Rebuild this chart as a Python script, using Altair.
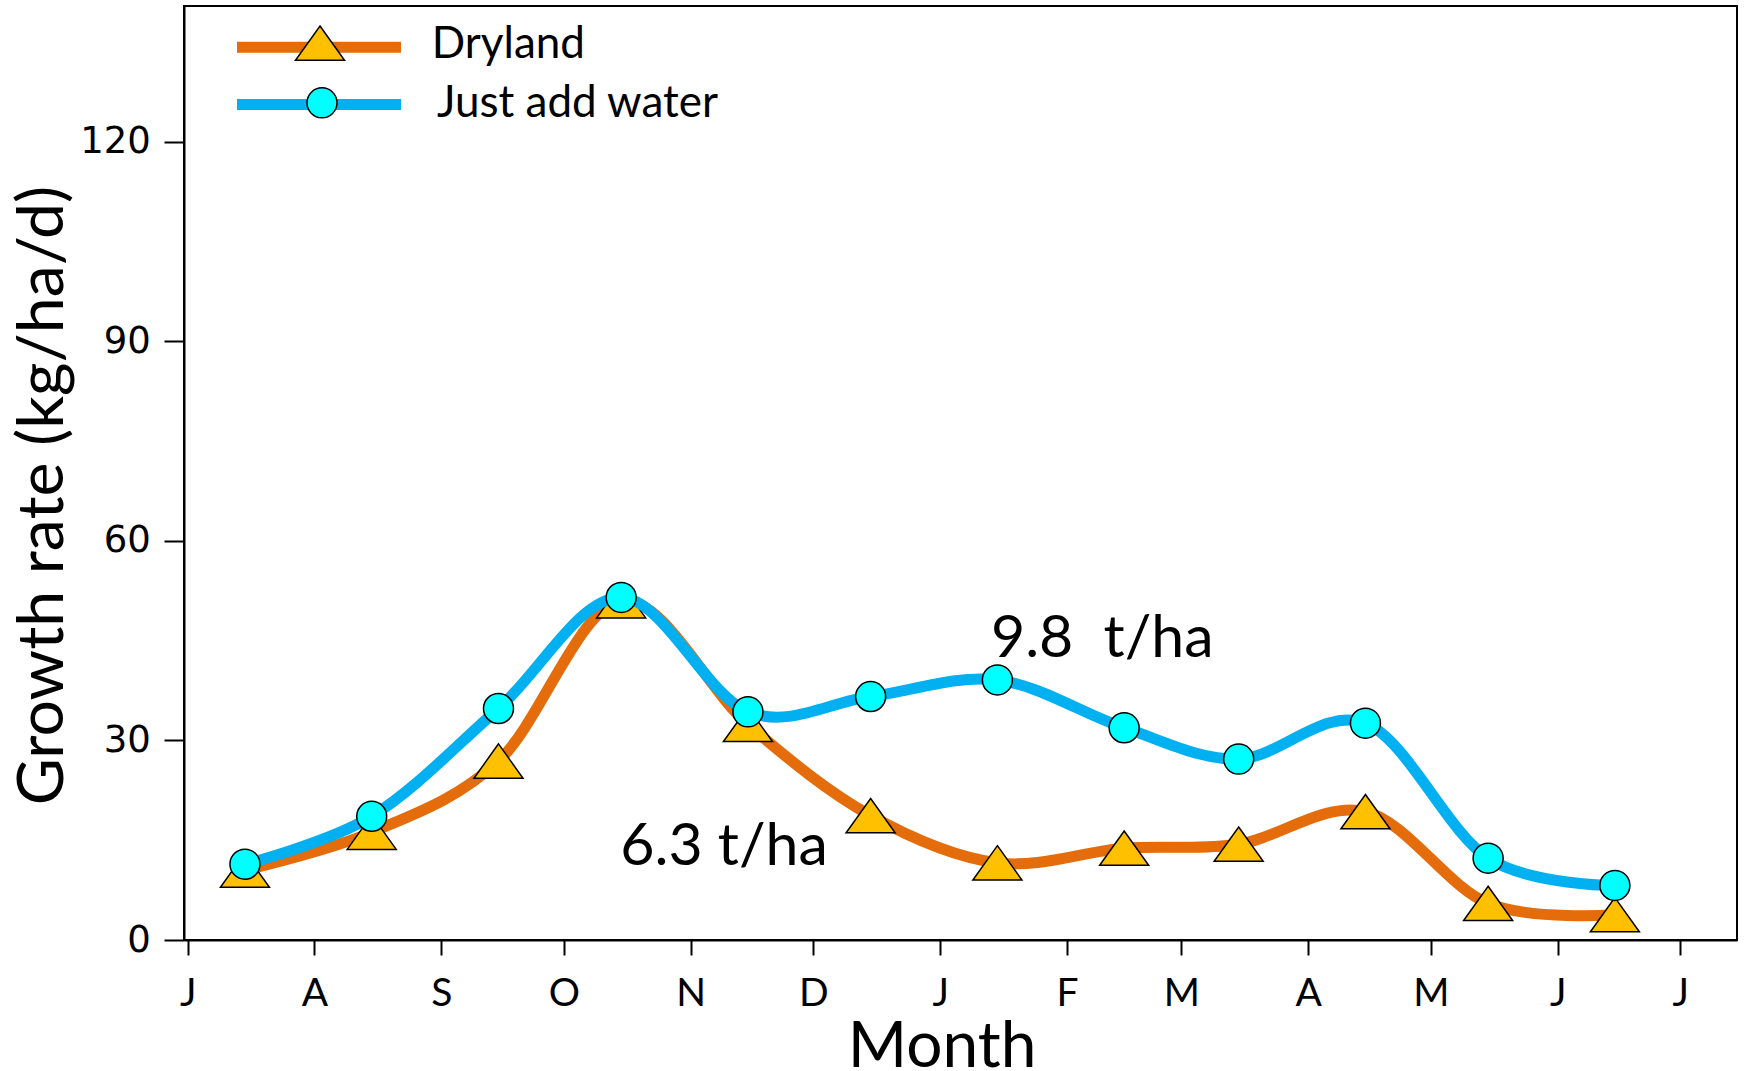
import altair as alt
import pandas as pd

# Mid-month sample dates (UTC)
dates = [
    "2014-07-15", "2014-08-15", "2014-09-15", "2014-10-15", "2014-11-15", "2014-12-15",
    "2015-01-15", "2015-02-15", "2015-03-15", "2015-04-15", "2015-05-15", "2015-06-15",
]
# Growth rate, kg DM/ha/day
dryland = [10.5, 16.2, 26.9, 51.0, 32.4, 18.7, 11.6, 13.8, 14.4, 19.3, 5.5, 3.8]
just_add_water = [11.4, 18.6, 34.8, 51.5, 34.3, 36.6, 39.1, 31.9, 27.2, 32.6, 12.3, 8.2]

series_names = ["Dryland", "Just add water"]
line_colors = ["#E46C0A", "#00B0F0"]
marker_fills = ["#FFC000", "#00FFFF"]
marker_shapes = ["M0,-0.7L1,0.7L-1,0.7Z", "circle"]
marker_sizes = [2401, 900]

# Seasonal totals written beside the curves
total_labels = ["6.3 t/ha", "9.8\u00a0 t/ha"]
total_dates = ["2014-10-14T19:00:00Z", "2015-01-13T10:00:00Z"]
total_values = [11.2, 42.6]

y_ticks = [0, 30, 60, 90, 120]
tick_months = [(2014, m) for m in range(7, 13)] + [(2015, m) for m in range(1, 8)]

rows = []
for name, vals in zip(series_names, [dryland, just_add_water]):
    for d, v in zip(dates, vals):
        rows.append({"date": d, "series": name, "rate": v})
df = pd.DataFrame(rows)

notes = pd.DataFrame({"date": total_dates, "rate": total_values, "label": total_labels})

x_scale = alt.Scale(
    type="utc",
    domain=[
        alt.DateTime(year=2014, month=6, date=30, hours=2, minutes=17, utc=True),
        alt.DateTime(year=2015, month=7, date=14, hours=20, minutes=40, utc=True),
    ],
)
y_scale = alt.Scale(domain=[0, 140.4], nice=False)

x_axis = alt.Axis(
    values=[alt.DateTime(year=y, month=m, date=1, utc=True) for y, m in tick_months],
    labelExpr="substring(utcFormat(datum.value, '%b'), 0, 1)",
    labelFont="Lato", labelFontSize=39, labelColor="black",
    labelPadding=19, tickSize=15, tickColor="black", tickWidth=2,
    domainColor="black", domainWidth=2, grid=False,
    title="Month", titleFont="Lato", titleFontSize=64, titleFontWeight="normal",
    titleColor="black", titleX=757.6, titleY=126, titleBaseline="alphabetic",
    titleAlign="center", labelFlush=False, labelOverlap=False,
)
y_axis = alt.Axis(
    values=y_ticks,
    labelFont="DejaVu Sans", labelFontSize=37, labelColor="black",
    labelPadding=13.6, tickSize=20, tickColor="black", tickWidth=2,
    domainColor="black", domainWidth=2, grid=False,
    title="Growth rate (kg/ha/d)", titleFont="Lato", titleFontSize=64.5,
    titleFontWeight="normal", titleColor="black", titleAngle=270,
    titleX=-141, titleY=489, titleAlign="center", titleBaseline="middle",
)

X = alt.X("date:T", scale=x_scale, axis=x_axis)
Y = alt.Y("rate:Q", scale=y_scale, axis=y_axis)

color_scale = alt.Scale(domain=series_names, range=line_colors)
fill_scale = alt.Scale(domain=series_names, range=marker_fills)
shape_scale = alt.Scale(domain=series_names, range=marker_shapes)
size_scale = alt.Scale(domain=series_names, range=marker_sizes)

base = alt.Chart(df)
layers = []
for name in series_names:
    sub = base.transform_filter(alt.datum.series == name)
    layers.append(
        sub.mark_line(interpolate="cardinal", strokeWidth=11, strokeJoin="round").encode(
            x=X, y=Y,
            color=alt.Color("series:N", scale=color_scale, legend=None),
            order="date:T",
        )
    )
    layers.append(
        sub.mark_point(filled=True, stroke="black", strokeWidth=1.5, opacity=1).encode(
            x=X, y=Y,
            fill=alt.Fill("series:N", scale=fill_scale, legend=None),
            shape=alt.Shape("series:N", scale=shape_scale, legend=None),
            size=alt.Size("series:N", scale=size_scale, legend=None),
        )
    )

notes_layer = alt.Chart(notes).mark_text(
    align="left", baseline="alphabetic", font="Lato", fontSize=59, color="black"
).encode(x=X, y=Y, text="label:N")
layers.append(notes_layer)

# Legend drawn in the top-left corner of the plot
legend_layout = [
    # (line y, marker y, text y, marker x, text x)
    (41.2, 37.2, 52.3, 136, 247.8),
    (98.5, 96.8, 111.3, 138, 253),
]
for i, name in enumerate(series_names):
    ly, my, ty, mx, tx = legend_layout[i]
    one = alt.Chart(pd.DataFrame({"series": [name]}))
    layers.append(
        one.mark_rule(strokeWidth=11, color=line_colors[i], strokeCap="butt").encode(
            x=alt.value(53), x2=alt.value(217), y=alt.value(ly)
        )
    )
    layers.append(
        one.mark_point(
            filled=True, fill=marker_fills[i], stroke="black", strokeWidth=1.5,
            shape=marker_shapes[i], size=marker_sizes[i], opacity=1,
        ).encode(x=alt.value(mx), y=alt.value(my))
    )
    layers.append(
        one.mark_text(
            align="left", baseline="alphabetic", font="Lato", fontSize=44, color="black"
        ).encode(x=alt.value(tx), y=alt.value(ty), text="series:N")
    )

chart = (
    alt.layer(*layers)
    .properties(
        width=1553, height=934,
        autosize=alt.AutoSizeParams(type="none"),
        padding={"left": 184, "top": 6, "right": 8, "bottom": 131},
        background="white",
    )
    .configure_view(stroke="black", strokeWidth=2)
)

chart.save("out.html", embed_options={"renderer": "svg", "actions": False})
